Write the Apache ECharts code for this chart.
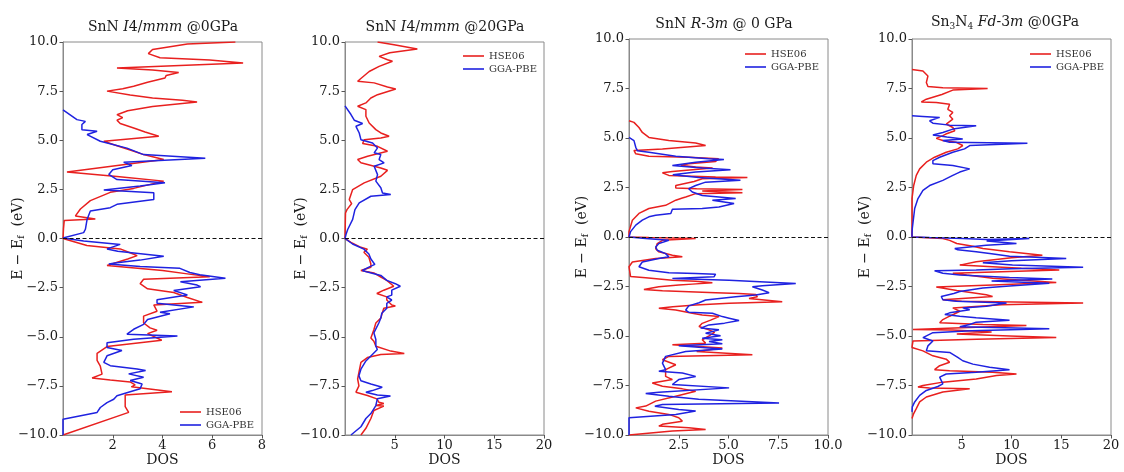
<!DOCTYPE html>
<html><head><meta charset="utf-8">
<script src="https://cdn.jsdelivr.net/npm/echarts/dist/echarts.min.js"></script>
<style>html,body{margin:0;padding:0;background:#fff}#c{width:1124px;height:472px}</style>
</head><body><div id="c"></div><script>
// ---- data: [DOS, E - Ef] ----
const p1Hse = [[6.93,10],[5.0,9.9],[3.6,9.62],[3.43,9.41],[3.9,9.2],[5.9,9.08],[7.24,8.93],[2.17,8.68],[3.6,8.58],[4.65,8.45],[4.15,8.3],[4.1,8.17],[3.4,7.95],[2.84,7.75],[2.4,7.62],[1.77,7.5],[2.7,7.3],[3.6,7.15],[4.8,7.03],[5.39,6.95],[3.6,6.72],[2.6,6.5],[2.17,6.3],[2.4,6.15],[2.17,6.02],[2.3,5.85],[2.9,5.6],[3.3,5.42],[3.85,5.2],[1.64,4.95],[2.17,4.72],[2.7,4.5],[3.24,4.27],[4.05,4.02],[0.16,3.38],[2.17,3.15],[4.05,2.92],[2.84,2.55],[1.9,2.35],[1.1,1.93],[0.7,1.5],[0.5,1.15],[1.3,0.99],[0.05,0.92],[0.02,0.5],[0,0],
 [0.96,-0.36],[2.3,-0.53],[2.64,-0.7],[2.98,-0.87],[2.6,-1.04],[1.77,-1.37],[4.0,-1.63],[5.0,-1.8],[5.9,-1.95],[3.24,-2.07],[3.1,-2.3],[3.4,-2.56],[4.45,-2.75],[5.0,-3.0],[5.6,-3.25],[3.65,-3.38],[3.78,-3.7],[3.24,-3.95],[3.24,-4.3],[3.5,-4.55],[3.78,-4.67],[3.4,-4.84],[3.97,-5.18],[1.77,-5.5],[1.37,-5.84],[1.37,-6.2],[1.5,-6.5],[1.57,-6.9],[1.17,-7.1],[1.9,-7.2],[2.7,-7.3],[2.9,-7.45],[2.75,-7.55],[4.38,-7.8],[2.5,-7.96],[2.5,-8.55],[2.64,-8.85],[0,-10]];
const p1Gga = [[0,6.55],[0.56,6.05],[0.9,5.96],[0.76,5.8],[0.76,5.54],[1.37,5.46],[0.97,5.29],[1.5,4.95],[2.57,4.6],[3.24,4.27],[5.72,4.08],[2.44,3.88],[2.77,3.72],[2.0,3.5],[1.84,3.26],[2.17,3.0],[4.1,2.84],[3.1,2.67],[1.64,2.47],[3.65,2.33],[3.65,1.99],[2.17,1.74],[1.9,1.57],[1.1,1.4],[0.97,0.98],[0.9,0.47],[0.83,0.3],[0,0.03],[0,0],
 [0.83,-0.13],[2.3,-0.3],[1.77,-0.53],[2.2,-0.65],[4.05,-0.9],[3.1,-1.1],[2.17,-1.24],[1.84,-1.3],[3.1,-1.43],[4.7,-1.52],[4.65,-1.62],[5.1,-1.73],[5.5,-1.85],[6.53,-2.02],[4.72,-2.2],[5.39,-2.37],[5.53,-2.45],[4.45,-2.65],[5.0,-2.87],[5.0,-2.95],[3.78,-3.12],[3.78,-3.3],[5.26,-3.48],[3.9,-3.75],[4.3,-3.83],[3.4,-4.12],[3.24,-4.37],[2.84,-4.62],[2.57,-4.87],[4.6,-4.96],[2.84,-5.13],[1.77,-5.3],[1.77,-5.55],[2.37,-5.7],[1.77,-5.97],[1.64,-6.3],[1.9,-6.47],[2.98,-6.64],[3.32,-6.72],[2.64,-6.89],[3.24,-7.06],[2.7,-7.23],[3.18,-7.4],[3.1,-7.65],[2.7,-7.8],[2.17,-8.0],[2.04,-8.18],[1.77,-8.35],[1.5,-8.6],[1.37,-8.85],[0,-9.2],[0,-10]];
const p2Hse = [[3.27,10],[4.93,9.86],[7.27,9.64],[4.5,9.45],[3.43,9.27],[4.27,9.1],[4.77,9.02],[3.43,8.76],[2.43,8.5],[1.27,8.0],[2.93,7.92],[4.27,7.71],[5.1,7.61],[3.27,7.32],[2.6,7.15],[2.1,6.9],[1.27,6.73],[2.1,6.56],[2.1,6.22],[2.43,5.88],[3.1,5.54],[3.6,5.37],[4.43,5.2],[3.6,5.12],[1.93,5.03],[1.77,4.83],[3.27,4.69],[4.27,4.44],[4.43,4.36],[2.27,4.19],[1.27,4.02],[1.6,3.85],[3.6,3.59],[4.27,3.47],[3.6,3.17],[1.93,2.83],[0.77,2.49],[0.43,1.98],[0.67,1.78],[0.2,1.47],[0.05,1.3],[0,0],
 [0.6,-0.2],[1.6,-0.45],[2.25,-0.54],[1.9,-0.7],[2.4,-0.95],[2.6,-1.3],[2.6,-1.46],[1.6,-1.63],[1.4,-1.71],[2.9,-1.75],[3.6,-1.96],[4.2,-2.13],[4.9,-2.43],[3.9,-2.63],[3.2,-2.8],[4.2,-2.97],[4.2,-3.13],[4.7,-3.38],[5.06,-3.43],[3.9,-3.55],[3.74,-3.8],[3.6,-4.05],[3.1,-4.3],[2.9,-4.64],[2.6,-5.06],[2.9,-5.23],[3.1,-5.48],[4.6,-5.73],[5.96,-5.85],[3.6,-5.9],[2.25,-6.06],[1.6,-6.3],[1.4,-6.82],[1.27,-7.15],[1.4,-7.5],[1.1,-7.82],[2.25,-7.99],[3.2,-8.16],[3.4,-8.33],[3.9,-8.4],[3.1,-8.5],[3.9,-8.53],[2.9,-8.75],[2.6,-9.16],[2.1,-9.66],[1.6,-10]];
const p2Gga = [[0,6.75],[0.6,6.31],[0.93,6.02],[1.77,5.85],[1.1,5.71],[1.43,5.37],[1.6,5.03],[2.77,4.86],[3.27,4.61],[2.93,4.36],[3.6,4.27],[3.43,4.02],[3.93,3.85],[2.93,3.68],[3.27,3.25],[3.1,2.92],[3.6,2.58],[3.77,2.32],[4.6,2.24],[2.6,2.15],[1.43,1.81],[1.0,1.47],[0.77,0.97],[0.27,0.46],[0.1,0.2],[0,0],
 [0.76,-0.28],[1.9,-0.54],[2.4,-0.79],[2.6,-1.04],[3.0,-1.32],[2.4,-1.46],[1.75,-1.63],[2.25,-1.71],[3.6,-1.88],[4.2,-2.13],[5.06,-2.3],[5.56,-2.43],[4.7,-2.63],[4.7,-2.88],[4.2,-2.97],[4.7,-3.13],[4.2,-3.3],[4.2,-3.55],[3.7,-3.8],[3.6,-4.05],[3.4,-4.3],[2.9,-4.8],[3.1,-5.14],[3.1,-5.48],[3.25,-5.65],[2.75,-5.9],[2.1,-6.23],[1.6,-6.65],[1.4,-6.99],[1.6,-7.24],[2.6,-7.4],[3.74,-7.57],[2.75,-7.74],[2.1,-7.82],[3.25,-7.96],[4.57,-8.02],[3.25,-8.16],[3.1,-8.5],[2.6,-8.91],[2.1,-9.16],[1.6,-9.58],[0.6,-10]];
const p3Hse = [[0,5.87],[0.25,5.79],[0.5,5.53],[0.67,5.28],[1.0,5.03],[2.0,4.87],[3.35,4.75],[3.85,4.62],[1.68,4.45],[0.25,4.37],[0.34,4.2],[1.0,4.08],[3.0,4.03],[4.5,3.95],[4.35,3.81],[3.0,3.7],[2.6,3.62],[3.35,3.53],[4.2,3.48],[2.18,3.31],[1.68,3.24],[2.0,3.11],[4.35,3.03],[5.95,3.0],[3.68,2.94],[3.27,2.8],[2.35,2.6],[2.35,2.47],[3.4,2.44],[5.7,2.4],[3.68,2.32],[5.7,2.24],[3.35,2.19],[2.85,2.02],[2.68,1.97],[2.35,1.86],[1.84,1.6],[1.0,1.44],[0.5,1.19],[0.17,0.85],[0,0.27],[0,0],
 [1.0,-0.03],[3.35,-0.08],[1.68,-0.17],[1.42,-0.33],[1.34,-0.59],[1.5,-0.75],[2.18,-0.92],[2.68,-1.0],[1.34,-1.09],[0.17,-1.26],[0,-1.5],[0.08,-2.0],[0.84,-2.06],[2.18,-2.18],[3.35,-2.23],[4.19,-2.31],[3.18,-2.38],[2.5,-2.43],[1.5,-2.51],[0.75,-2.65],[1.68,-2.71],[4.35,-2.81],[5.53,-2.85],[6.37,-2.9],[6.45,-3.02],[6.03,-3.1],[7.7,-3.27],[5.03,-3.35],[3.35,-3.43],[2.2,-3.52],[1.5,-3.6],[2.35,-3.69],[3.18,-3.85],[3.68,-3.94],[4.52,-4.02],[4.1,-4.2],[3.68,-4.36],[3.52,-4.52],[4.02,-4.69],[4.3,-4.82],[4.02,-4.99],[3.68,-5.19],[3.85,-5.36],[2.18,-5.44],[4.69,-5.61],[3.4,-5.78],[6.2,-5.95],[2.0,-6.03],[1.68,-6.2],[2.35,-6.45],[1.84,-6.7],[1.84,-7.04],[2.18,-7.2],[1.17,-7.37],[1.68,-7.54],[2.68,-7.67],[3.35,-7.79],[2.35,-8.04],[1.34,-8.29],[0.84,-8.54],[0.34,-8.63],[1.0,-8.8],[2.0,-8.96],[2.5,-9.13],[2.68,-9.3],[1.68,-9.46],[1.5,-9.55],[3.0,-9.63],[3.85,-9.72],[2.18,-9.8],[0,-10]];
const p3Gga = [[0,5.03],[0.25,4.87],[0.34,4.53],[0.42,4.36],[1.0,4.28],[2.35,4.08],[4.0,3.95],[4.77,3.91],[3.35,3.78],[2.18,3.61],[3.68,3.48],[5.1,3.4],[3.35,3.28],[2.2,3.15],[3.5,3.0],[5.6,2.86],[3.85,2.77],[3.35,2.6],[3.0,2.44],[3.18,2.27],[3.68,2.1],[5.36,1.94],[4.19,1.86],[5.28,1.69],[4.52,1.52],[3.68,1.44],[2.18,1.4],[2.1,1.19],[1.34,1.1],[1.0,1.02],[0.67,0.85],[0.34,0.6],[0.08,0.27],[0,0.18],[0,0],
 [0.84,-0.08],[2.0,-0.17],[1.5,-0.33],[1.34,-0.5],[1.42,-0.67],[1.84,-0.84],[2.0,-1.0],[1.5,-1.09],[0.67,-1.26],[0.5,-1.5],[1.0,-1.68],[2.0,-1.81],[3.35,-1.84],[4.35,-1.88],[4.27,-2.01],[2.18,-2.09],[5.03,-2.18],[8.38,-2.35],[6.7,-2.46],[6.2,-2.51],[6.7,-2.68],[7.04,-2.81],[6.37,-2.93],[5.36,-3.02],[3.85,-3.18],[3.52,-3.32],[3.0,-3.48],[2.85,-3.69],[3.0,-3.8],[4.19,-3.85],[4.69,-4.02],[5.03,-4.1],[5.53,-4.22],[4.8,-4.35],[4.02,-4.44],[3.6,-4.6],[4.52,-4.69],[3.85,-4.86],[4.6,-4.99],[3.68,-5.11],[4.69,-5.19],[4.02,-5.28],[4.69,-5.39],[2.5,-5.49],[4.69,-5.66],[2.85,-5.78],[1.84,-6.03],[1.68,-6.37],[1.84,-6.7],[1.5,-6.78],[2.68,-6.87],[3.35,-7.04],[2.5,-7.2],[2.18,-7.45],[5.03,-7.62],[1.5,-7.84],[0.84,-7.9],[2.0,-8.04],[3.5,-8.2],[7.54,-8.38],[1.68,-8.46],[1.3,-8.55],[2.5,-8.71],[3.35,-8.79],[2.35,-8.96],[0,-9.13],[0,-10]];
const p4Hse = [[0,8.46],[1.1,8.38],[1.6,8.13],[1.44,7.8],[1.6,7.6],[3.1,7.54],[7.6,7.5],[4.1,7.42],[3.0,7.2],[1.44,6.96],[0.94,6.82],[2.44,6.79],[3.78,6.7],[3.9,6.6],[3.6,6.45],[4.1,6.29],[3.78,6.12],[4.1,5.95],[3.44,5.7],[4.1,5.53],[4.3,5.37],[3.4,5.2],[3.1,5.12],[2.44,4.98],[3.1,4.87],[4.45,4.78],[5.1,4.62],[4.6,4.45],[3.44,4.28],[2.27,4.03],[1.44,3.78],[0.77,3.44],[0.43,3.11],[0.17,2.6],[0,1.94],[0,0],
 [3.1,-0.08],[3.78,-0.17],[4.5,-0.33],[6.12,-0.47],[7.12,-0.58],[9.8,-0.75],[13.1,-0.92],[10,-1.05],[6.45,-1.25],[4.8,-1.42],[8.1,-1.5],[11,-1.58],[14.8,-1.67],[9,-1.75],[4.1,-1.83],[5.5,-1.92],[8.1,-2.08],[14.5,-2.3],[8.1,-2.42],[2.44,-2.53],[4.5,-2.7],[7.46,-2.92],[8.1,-3.0],[3.1,-3.17],[5.0,-3.25],[17.2,-3.33],[9.0,-3.42],[4.1,-3.58],[4.8,-3.75],[4.2,-3.9],[3.78,-4.0],[3.1,-4.17],[2.78,-4.33],[7.12,-4.42],[11.5,-4.47],[5.0,-4.58],[0.1,-4.67],[4.1,-4.7],[8.0,-4.8],[4.5,-4.9],[9.8,-5.0],[14.5,-5.08],[6.5,-5.17],[0.1,-5.25],[0,-5.58],[1.1,-5.75],[2.1,-6.0],[3.44,-6.17],[3.78,-6.33],[2.78,-6.5],[2.27,-6.7],[3.78,-6.75],[8.1,-6.83],[10.5,-6.92],[8.5,-7.0],[6.45,-7.17],[3.1,-7.33],[1.1,-7.5],[0.6,-7.58],[1.77,-7.63],[5.8,-7.67],[3.1,-7.83],[1.44,-8.08],[0.77,-8.33],[0.43,-8.67],[0.17,-8.92],[0,-9.17]];
const p4Gga = [[0,6.12],[1.1,6.09],[2.78,6.04],[1.77,5.87],[2.1,5.75],[3.78,5.65],[6.45,5.62],[4.1,5.45],[3.1,5.28],[2.1,5.15],[3.5,5.05],[5.1,4.95],[3.1,4.87],[3.78,4.78],[11.6,4.73],[5.8,4.62],[5.28,4.45],[4.1,4.28],[2.78,4.03],[2.1,3.86],[2.1,3.7],[4.1,3.61],[5.8,3.44],[4.8,3.28],[4.1,3.11],[3.1,2.86],[1.77,2.6],[1.1,2.36],[0.6,1.94],[0.27,1.44],[0.03,0.43],[0,0.18],[0,0],
 [1.77,-0.03],[5.1,-0.08],[7.46,-0.13],[11.8,-0.08],[7.5,-0.2],[10.5,-0.33],[7.46,-0.42],[4.3,-0.58],[4.6,-0.65],[6.45,-0.75],[8,-0.85],[9.8,-0.97],[13.1,-1.03],[15.5,-1.08],[10,-1.2],[7.12,-1.3],[10.1,-1.42],[17.2,-1.53],[10,-1.6],[6.45,-1.67],[2.27,-1.7],[3.1,-1.83],[4.8,-1.92],[9.8,-2.05],[14.1,-2.12],[8,-2.22],[13.8,-2.33],[9.8,-2.47],[7.12,-2.58],[4.8,-2.75],[4.2,-2.85],[2.94,-3.0],[3.1,-3.17],[4.45,-3.25],[9.5,-3.33],[7.46,-3.5],[5.1,-3.58],[5.8,-3.67],[3.78,-3.83],[3.3,-3.92],[4.8,-4.0],[6.45,-4.08],[9.8,-4.2],[6.45,-4.3],[5.8,-4.42],[4.8,-4.53],[13.8,-4.63],[6,-4.73],[2.1,-4.83],[1.1,-5.08],[2.1,-5.25],[1.6,-5.5],[1.44,-5.75],[3.78,-5.83],[4.6,-6.08],[5.1,-6.25],[6.12,-6.42],[7.8,-6.58],[9.8,-6.7],[6.45,-6.83],[3.44,-6.92],[2.78,-7.08],[3.1,-7.42],[2.6,-7.55],[1.44,-7.75],[0.77,-8.0],[0.27,-8.33],[0.03,-8.58],[0,-8.83]];

const seriesNames = ['HSE06', 'GGA-PBE'];
const xMaxes = [8, 20, 10, 20];
const xIntervals = [2, 5, 2.5, 5];
const titles = ['SnN {i|I}4/{i|mmm} @0GPa', 'SnN {i|I}4/{i|mmm} @20GPa', 'SnN {i|R}-3{i|m} @ 0 GPa', 'Sn{s|3}N{s|4} {i|Fd}-3{i|m} @0GPa'];
const panelData = [[p1Hse, p1Gga], [p2Hse, p2Gga], [p3Hse, p3Gga], [p4Hse, p4Gga]];

// ---- layout / style ----
const FONT = 'DejaVu Serif';
const RED = '#e8201f', BLUE = '#1f22e0';
const grids = [
  {left: 63, top: 42, width: 199, height: 397},
  {left: 345, top: 42, width: 199, height: 397},
  {left: 629, top: 39, width: 199, height: 399},
  {left: 912, top: 39, width: 199, height: 400}
];
const titlePos = [[158, 13], [440, 13], [719, 10], [1000, 8]];
const legendPos = [[175, 402], [458, 46], [740, 44], [1025, 44]];
const yNameGap = [37, 36, 39, 39];
const frame = '#8a8a8a';

const option = {
  animation: false,
  backgroundColor: '#fff',
  title: titles.map((t, i) => ({
    text: t, left: titlePos[i][0], top: titlePos[i][1], textAlign: 'center',
    textStyle: {fontFamily: FONT, fontSize: 14, fontWeight: 'normal', color: '#1a1a1a', lineHeight: 18,
      rich: {i: {fontFamily: FONT, fontSize: 14, fontStyle: 'italic', color: '#1a1a1a', lineHeight: 18},
             s: {fontFamily: FONT, fontSize: 9, color: '#1a1a1a', lineHeight: 12, verticalAlign: 'bottom'}}}
  })),
  legend: legendPos.map(p => ({
    data: seriesNames, orient: 'vertical', left: p[0], top: p[1], icon: 'rect',
    itemWidth: 21, itemHeight: 1.6, itemGap: 3, selectedMode: false,
    textStyle: {fontFamily: FONT, fontSize: 10, color: '#333'}
  })),
  grid: grids.map(g => Object.assign({show: true, borderColor: frame, borderWidth: 1, containLabel: false}, g)),
  xAxis: grids.map((g, i) => ({
    gridIndex: i, type: 'value', min: 0, max: xMaxes[i], interval: xIntervals[i],
    name: 'DOS', nameLocation: 'middle', nameGap: 18, nameMoveOverlap: false,
    nameTextStyle: {fontFamily: FONT, fontSize: 14, color: '#1a1a1a'},
    axisLine: {show: true, onZero: false, lineStyle: {color: frame, width: 1}},
    axisTick: {show: true, length: 3.5, lineStyle: {color: '#555'}},
    axisLabel: {showMinLabel: false, margin: 4, fontFamily: FONT, fontSize: 13, color: '#1a1a1a',
      formatter: v => (xIntervals[i] % 1 ? v.toFixed(1) : String(v))},
    splitLine: {show: false}
  })),
  yAxis: grids.map((g, i) => ({
    gridIndex: i, type: 'value', min: -10, max: 10, interval: 2.5,
    name: 'E \u2212 E{s|f}  (eV)', nameLocation: 'middle', nameRotate: 90, nameGap: yNameGap[i], nameMoveOverlap: false,
    nameTextStyle: {fontFamily: FONT, fontSize: 14, color: '#1a1a1a', lineHeight: 16,
      rich: {s: {fontFamily: FONT, fontSize: 9, color: '#1a1a1a', lineHeight: 10, verticalAlign: 'bottom'}}},
    axisLine: {show: true, onZero: false, lineStyle: {color: frame, width: 1}},
    axisTick: {show: true, length: 3.5, lineStyle: {color: '#555'}},
    axisLabel: {margin: 5, fontFamily: FONT, fontSize: 13, color: '#1a1a1a',
      formatter: v => (v < 0 ? '\u2212' : '') + Math.abs(v).toFixed(1)},
    splitLine: {show: false}
  })),
  series: []
};
panelData.forEach((pair, i) => {
  pair.forEach((d, k) => {
    const s = {
      name: seriesNames[k], type: 'line', xAxisIndex: i, yAxisIndex: i, data: d,
      showSymbol: false, symbol: 'none', smooth: false, clip: true,
      lineStyle: {color: k ? BLUE : RED, width: 1.5}, itemStyle: {color: k ? BLUE : RED},
      z: 2 + k
    };
    if (k === 1) {
      s.markLine = {silent: true, symbol: 'none', label: {show: false},
        lineStyle: {color: '#111', type: [4, 2.5], width: 1.2}, data: [{yAxis: 0}], z: 5};
    }
    option.series.push(s);
  });
});
const chart = echarts.init(document.getElementById('c'), null, {renderer: 'canvas'});
chart.setOption(option);
</script></body></html>
